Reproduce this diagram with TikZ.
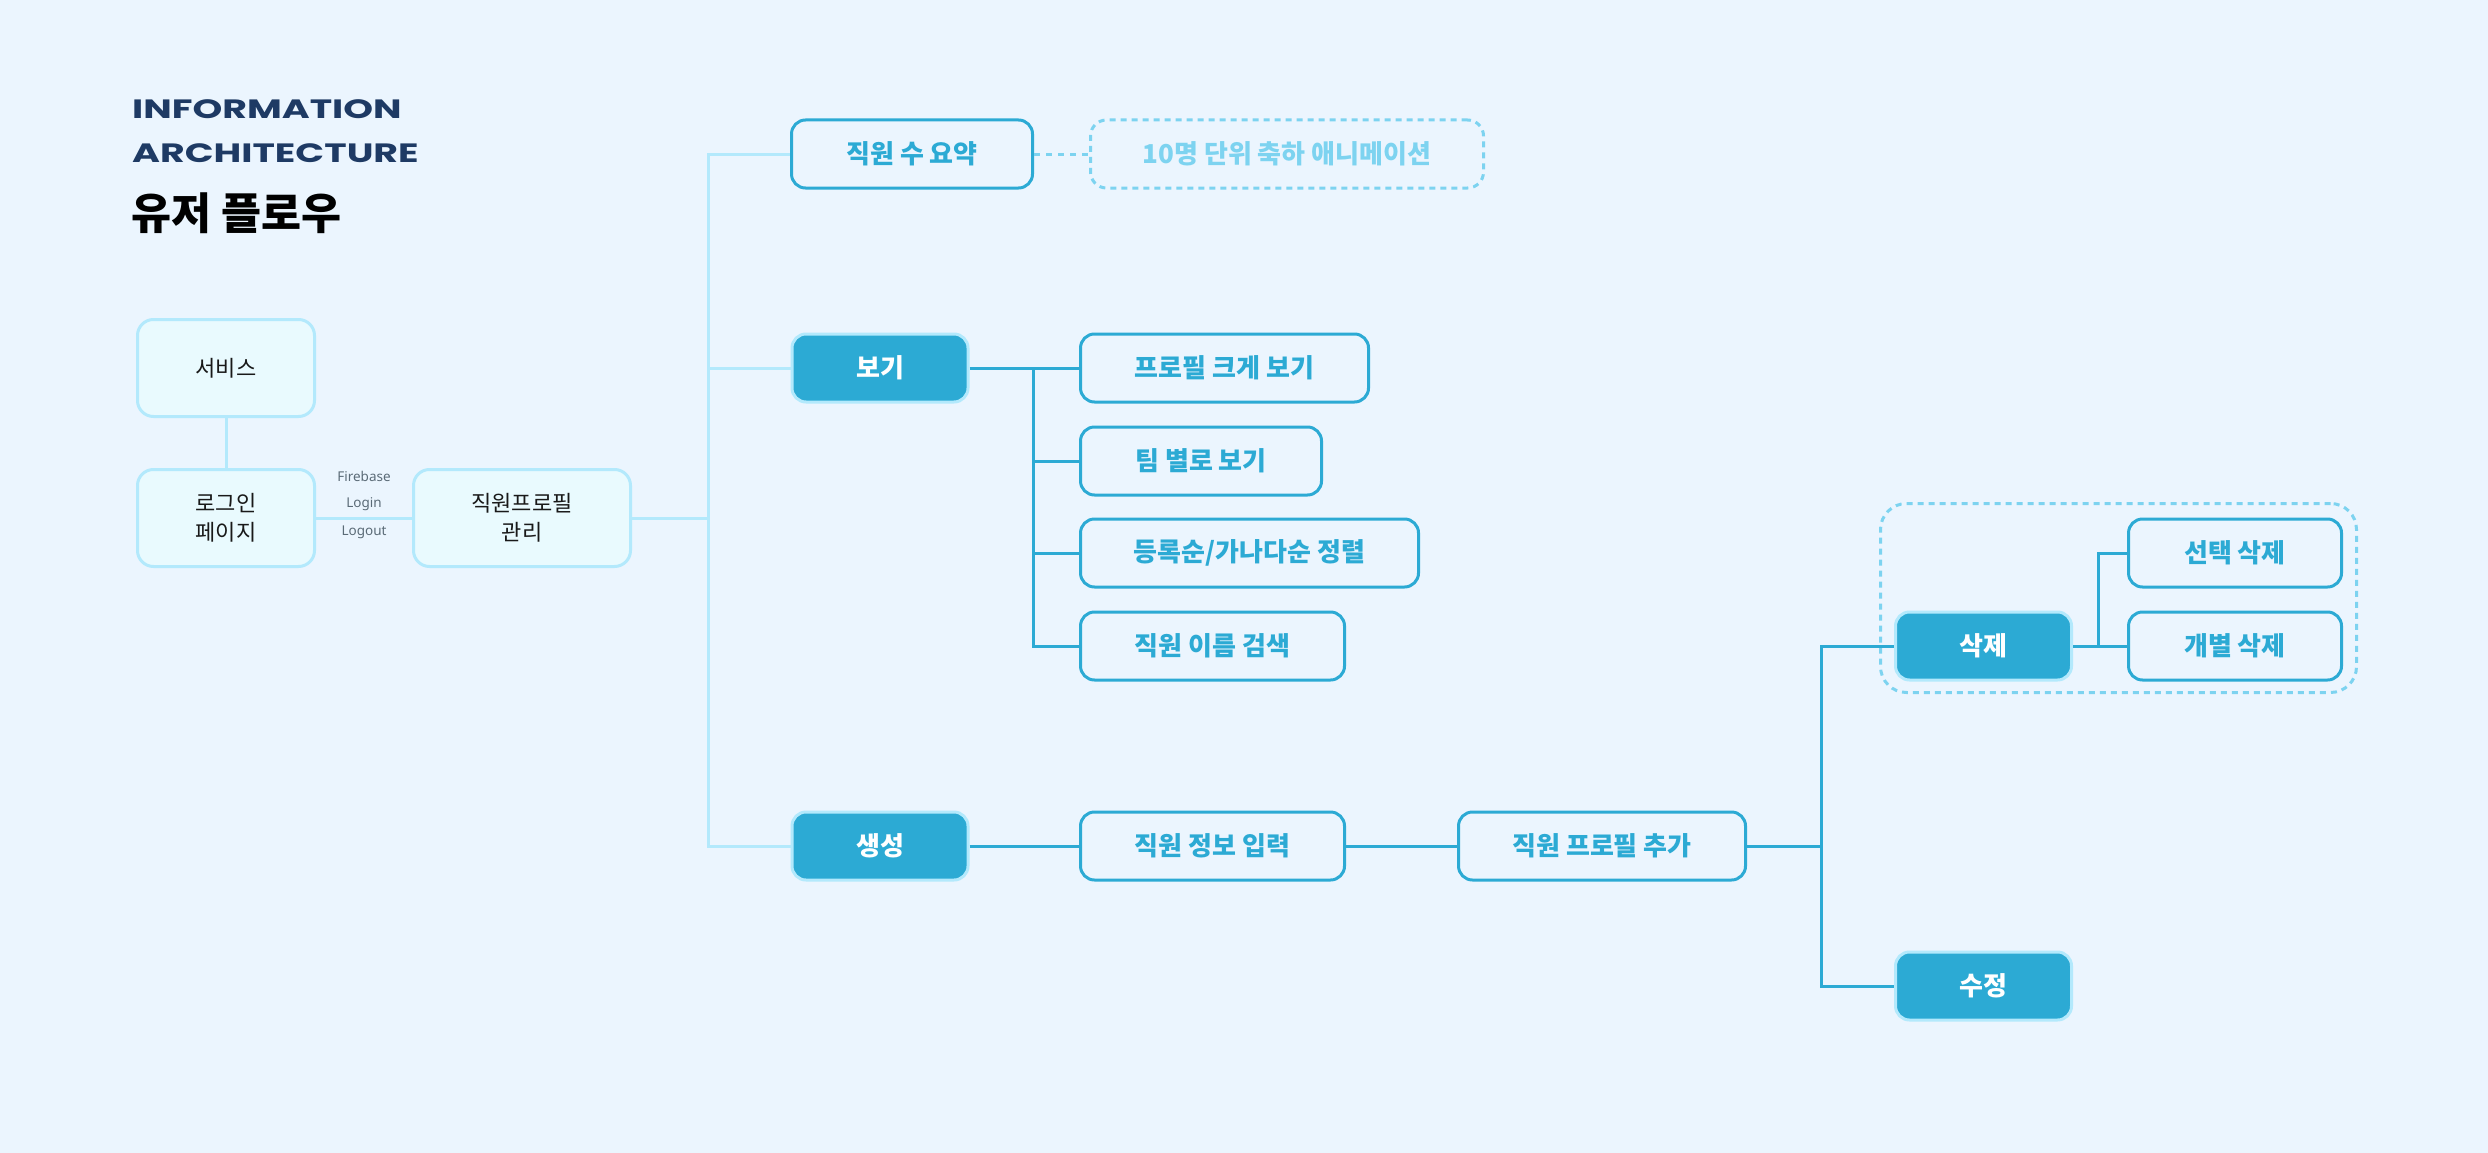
\documentclass[tikz,border=0pt]{standalone}
\usepackage{fontspec}
\setmainfont{Noto Sans CJK KR}
\newfontfamily\titlefont[FakeStretch=1.43]{Poppins}
\newfontfamily\smallfont{Noto Sans}
\definecolor{bg}{HTML}{EBF5FE}
\definecolor{lightc}{HTML}{B3E9FC}
\definecolor{lightfill}{HTML}{E9FAFE}
\definecolor{mainc}{HTML}{2CAAD4}
\definecolor{dashc}{HTML}{7DD3F0}
\definecolor{navy}{HTML}{1E3A64}
\definecolor{graytxt}{HTML}{5B6B77}
\begin{document}
\begin{tikzpicture}[x=1pt,y=-1pt,
  lightbox/.style={draw=lightc, fill=lightfill, line width=3pt, rounded corners=16pt, text=black!90, align=center, inner sep=0pt, font=\fontsize{22}{29}\selectfont, minimum height=97pt, minimum width=177pt},
  filledbox/.style={draw=lightc, fill=mainc, line width=3pt, rounded corners=14pt, text=white, inner sep=0pt, font=\bfseries\fontsize{26}{30}\selectfont, minimum height=68pt, minimum width=176pt},
  outbox/.style={draw=mainc, fill=bg, line width=3pt, rounded corners=14pt, text=mainc, inner sep=0pt, font=\bfseries\fontsize{26}{30}\selectfont, minimum height=68pt},
  dashbox/.style={draw=dashc, line width=3pt, dash pattern=on 6pt off 5pt, rounded corners=16pt, text=dashc, inner sep=0pt, font=\bfseries\fontsize{26}{30}\selectfont, minimum height=68pt},
  groupbox/.style={draw=dashc, line width=3pt, dash pattern=on 6pt off 5pt, rounded corners=26pt, inner sep=0pt},
  lightline/.style={draw=lightc, line width=3pt},
  mainline/.style={draw=mainc, line width=3pt},
  dotline/.style={draw=dashc, line width=3pt, dash pattern=on 6pt off 6pt},
  lbl/.style={text=graytxt, inner sep=0pt, font=\smallfont\fontsize{13.5}{16}\selectfont},
  titlestyle/.style={anchor=base west, inner sep=0pt, text=navy, font=\titlefont\bfseries\fontsize{26.5}{30}\selectfont}
]
\fill[bg] (0,0) rectangle (2488,1153);
\useasboundingbox (0,0) rectangle (2488,1153);

% titles
\node[titlestyle] (t1) at (132,119) {INFORMATION};
\node[titlestyle] (t2) at (132,162) {ARCHITECTURE};
\node[anchor=base west, inner sep=0pt, text=black, font=\bfseries\fontsize{43.5}{50}\selectfont] (t3) at (131,229) {유저 플로우};

% group
\node[groupbox, minimum width=476pt, minimum height=189pt] (grp) at (2118.5,598) {};

% left nodes
\node[lightbox] (svc) at (226,368) {서비스};
\node[lightbox] (login) at (226,518) {로그인\\페이지};
\node[lightbox, minimum width=217pt] (mgmt) at (522,518) {직원프로필\\관리};

\node[lbl, font=\smallfont\bfseries\fontsize{13.5}{16}\selectfont] (fb) at (364,476) {Firebase};
\node[lbl] (li) at (364,504) {Login};
\node[lbl] (lo) at (364,532) {Logout};

% level 1
\node[outbox, minimum width=241pt] (sum) at (912,154) {직원 수 요약};
\node[dashbox, minimum width=393pt] (anim) at (1287,154) {10명 단위 축하 애니메이션};
\node[filledbox] (view) at (880,368) {보기};
\node[filledbox] (create) at (880,846) {생성};

% view branch
\node[outbox, minimum width=288pt] (v1) at (1224.5,368) {프로필 크게 보기};
\node[outbox, minimum width=241pt] (v2) at (1201,461) {팀 별로 보기};
\node[outbox, minimum width=338pt] (v3) at (1249.5,553) {등록순/가나다순 정렬};
\node[outbox, minimum width=264pt] (v4) at (1212.5,646) {직원 이름 검색};

% create branch
\node[outbox, minimum width=264pt] (c1) at (1212.5,846) {직원 정보 입력};
\node[outbox, minimum width=287pt] (c2) at (1602,846) {직원 프로필 추가};
\node[filledbox] (del) at (1983.5,646) {삭제};
\node[filledbox] (edit) at (1983.5,986) {수정};
\node[outbox, minimum width=213pt] (d1) at (2235,553) {선택 삭제};
\node[outbox, minimum width=213pt] (d2) at (2235,646) {개별 삭제};

% coordinates
\coordinate (tr) at (708,518);
\coordinate (vb) at (1033,368);
\coordinate (cb) at (1821,846);
\coordinate (db) at (2098,646);

% connectors
\draw[lightline] (svc.south) -- (login.north);
\draw[lightline] (login.east) -- (mgmt.west);
\draw[lightline] (mgmt.east) -- (tr);
\draw[lightline] (sum.west) -| (tr) |- (create.west);
\draw[lightline] (view.west) -- (view.west -| tr);
\draw[dotline] (sum.east) -- (anim.west);

\draw[mainline] (view.east) -- (v1.west);
\draw[mainline] (vb) |- (v4.west);
\draw[mainline] (vb |- v2.west) -- (v2.west);
\draw[mainline] (vb |- v3.west) -- (v3.west);

\draw[mainline] (create.east) -- (c1.west);
\draw[mainline] (c1.east) -- (c2.west);
\draw[mainline] (c2.east) -- (cb);
\draw[mainline] (del.west) -| (cb) |- (edit.west);
\draw[mainline] (del.east) -- (d2.west);
\draw[mainline] (d1.west) -| (db);
\end{tikzpicture}
\end{document}
